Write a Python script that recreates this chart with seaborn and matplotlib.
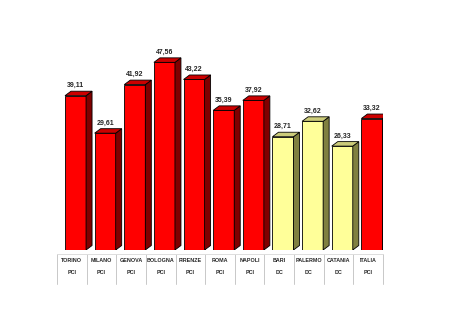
import matplotlib
matplotlib.use("Agg")
import matplotlib.pyplot as plt
import seaborn as sns
import pandas as pd
from matplotlib.patches import Polygon
import matplotlib.transforms as mtransforms

cities = ["TORINO", "MILANO", "GENOVA", "BOLOGNA", "FIRENZE", "ROMA", "NAPOLI",
          "BARI", "PALERMO", "CATANIA", "ITALIA"]
parties = ["PCI", "PCI", "PCI", "PCI", "PCI", "PCI", "PCI", "DC", "DC", "DC", "PCI"]
values = [39.11, 29.61, 41.92, 47.56, 43.22, 35.39, 37.92, 28.71, 32.62, 26.33, 33.32]

front = {"PCI": "#FF0000", "DC": "#FFFF99"}
side = {"PCI": "#800000", "DC": "#808040"}
top = {"PCI": "#CC0000", "DC": "#CCCC7A"}

df = pd.DataFrame({"city": cities, "party": parties, "value": values})

sns.set_style("white")
plt.rcParams["font.family"] = ["Liberation Sans", "DejaVu Sans"]

fig = plt.figure(figsize=(4.5, 3.18), dpi=100)
ax = fig.add_axes([57 / 450, 68 / 318, 326 / 450, 217 / 318])

sns.barplot(data=df, x="city", y="value", hue="party", palette=front,
            dodge=False, width=0.71, legend=False, ax=ax,
            edgecolor="black", linewidth=0.6, saturation=1)

ax.set_xlim(-0.625, 10.375)
ax.set_ylim(0, 55)
ax.axis("off")

# depth in data units
dx = 6 / 29.6
dy = 4.5 / 3.95

bars = sorted([p for p in ax.patches if p.get_height() > 0], key=lambda p: p.get_x())
for p, party, v in zip(bars, parties, values):
    x0 = p.get_x()
    w = p.get_width()
    h = p.get_height()
    x1 = x0 + w
    sidepoly = Polygon([[x1, 0], [x1 + dx, dy], [x1 + dx, h + dy], [x1, h]],
                       closed=True, facecolor=side[party], edgecolor="black", linewidth=0.6)
    toppoly = Polygon([[x0, h], [x0 + dx, h + dy], [x1 + dx, h + dy], [x1, h]],
                      closed=True, facecolor=top[party], edgecolor="black", linewidth=0.6)
    ax.add_patch(sidepoly)
    ax.add_patch(toppoly)
    ax.text(x0 + w / 2, h + dy + 0.5, f"{v:.2f}".replace(".", ","),
            ha="center", va="bottom", fontsize=5, fontweight="bold")

# table below
trans = mtransforms.blended_transform_factory(ax.transData, fig.transFigure)
ybot = 1 - 284 / 318
ytop = 1 - 254 / 318
for i in range(len(cities) + 1):
    xb = i - 0.625
    ax.plot([xb, xb], [ybot, ytop], transform=trans, color="#C8C8C8",
            linewidth=0.7, clip_on=False)
ax.plot([-0.625, 10.375], [ytop, ytop], transform=trans, color="#DDDDDD",
        linewidth=0.7, clip_on=False)
for i, (c, pt) in enumerate(zip(cities, parties)):
    xc = i - 0.125
    ax.text(xc, 1 - 261 / 318, c, transform=trans, ha="center", va="center",
            fontsize=3.9, fontweight="bold")
    ax.text(xc, 1 - 273 / 318, pt, transform=trans, ha="center", va="center",
            fontsize=3.9, fontweight="bold")

fig.savefig("out.png", dpi=100, facecolor="white")
